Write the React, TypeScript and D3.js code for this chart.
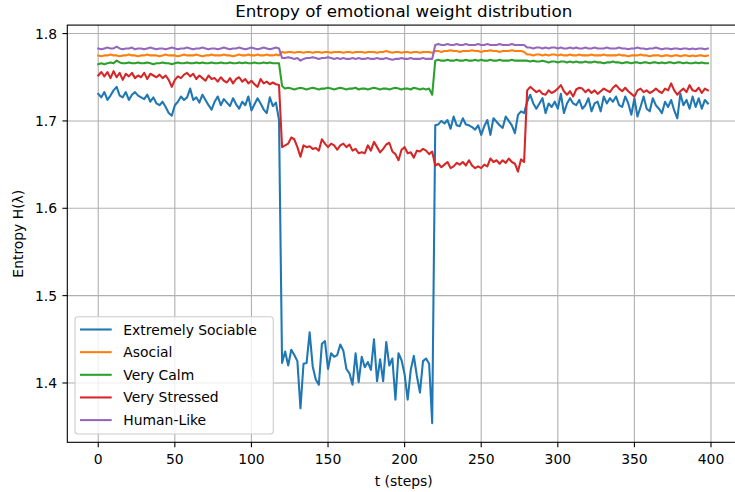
import React from 'react';
import * as d3 from 'd3';

// samples every 2 steps, t = 0 .. 398
const steps = d3.range(0, 400, 2);

const sociable = [
  1.731, 1.727, 1.733, 1.724, 1.729, 1.735, 1.739, 1.729, 1.727, 1.733,
  1.724, 1.730, 1.733, 1.729, 1.727, 1.725, 1.730, 1.722, 1.727, 1.720,
  1.718, 1.722, 1.716, 1.709, 1.706, 1.718, 1.722, 1.728, 1.724, 1.727,
  1.737, 1.724, 1.727, 1.721, 1.730, 1.724, 1.718, 1.713, 1.722, 1.728,
  1.718, 1.725, 1.721, 1.717, 1.726, 1.719, 1.714, 1.722, 1.718, 1.728,
  1.712, 1.719, 1.726, 1.720, 1.713, 1.709, 1.727, 1.717, 1.721, 1.701,
  1.423, 1.436, 1.420, 1.438, 1.432, 1.425, 1.371, 1.422, 1.423, 1.458,
  1.419, 1.404, 1.398, 1.445, 1.448, 1.416, 1.434, 1.430, 1.432, 1.444,
  1.437, 1.416, 1.411, 1.398, 1.434, 1.401, 1.430, 1.418, 1.424, 1.415,
  1.450, 1.402, 1.427, 1.402, 1.447, 1.420, 1.428, 1.381, 1.434, 1.426,
  1.410, 1.381, 1.415, 1.431, 1.408, 1.389, 1.425, 1.428, 1.422, 1.354,
  1.695, 1.696, 1.700, 1.697, 1.701, 1.691, 1.705, 1.695, 1.694, 1.703,
  1.696, 1.695, 1.693, 1.690, 1.695, 1.684, 1.694, 1.701, 1.684, 1.703,
  1.699, 1.695, 1.692, 1.705, 1.700, 1.695, 1.686, 1.707, 1.711, 1.709,
  1.722, 1.730, 1.720, 1.714, 1.720, 1.726, 1.709, 1.720, 1.716, 1.722,
  1.714, 1.731, 1.709, 1.720, 1.726, 1.720, 1.718, 1.724, 1.714, 1.718,
  1.726, 1.711, 1.720, 1.722, 1.711, 1.728, 1.720, 1.726, 1.722, 1.728,
  1.718, 1.716, 1.728, 1.720, 1.707, 1.726, 1.705, 1.716, 1.728, 1.714,
  1.711, 1.726, 1.718, 1.714, 1.709, 1.722, 1.716, 1.724, 1.712, 1.703,
  1.731, 1.718, 1.724, 1.714, 1.728, 1.716, 1.726, 1.714, 1.724, 1.720,
];

const asocial = [
  1.775, 1.774, 1.775, 1.775, 1.776, 1.775, 1.775, 1.774, 1.775, 1.775,
  1.776, 1.775, 1.775, 1.774, 1.775, 1.775, 1.776, 1.775, 1.775, 1.775,
  1.774, 1.775, 1.776, 1.775, 1.775, 1.775, 1.774, 1.775, 1.776, 1.775,
  1.775, 1.775, 1.776, 1.775, 1.774, 1.775, 1.775, 1.776, 1.775, 1.775,
  1.775, 1.776, 1.775, 1.775, 1.774, 1.775, 1.776, 1.775, 1.775, 1.776,
  1.775, 1.775, 1.776, 1.775, 1.775, 1.776, 1.775, 1.775, 1.776, 1.775,
  1.779, 1.778, 1.779, 1.779, 1.778, 1.779, 1.779, 1.778, 1.779, 1.779,
  1.778, 1.779, 1.779, 1.778, 1.779, 1.779, 1.778, 1.779, 1.779, 1.779,
  1.778, 1.779, 1.779, 1.778, 1.779, 1.779, 1.779, 1.778, 1.779, 1.779,
  1.779, 1.778, 1.779, 1.779, 1.780, 1.779, 1.778, 1.779, 1.779, 1.778,
  1.779, 1.779, 1.778, 1.779, 1.779, 1.778, 1.779, 1.779, 1.779, 1.778,
  1.780, 1.780, 1.779, 1.780, 1.780, 1.781, 1.780, 1.780, 1.779, 1.780,
  1.780, 1.780, 1.781, 1.780, 1.780, 1.779, 1.780, 1.780, 1.781, 1.780,
  1.780, 1.779, 1.780, 1.780, 1.780, 1.781, 1.780, 1.780, 1.780, 1.779,
  1.776, 1.776, 1.775, 1.776, 1.776, 1.775, 1.776, 1.775, 1.776, 1.776,
  1.775, 1.776, 1.775, 1.775, 1.776, 1.775, 1.775, 1.776, 1.775, 1.775,
  1.775, 1.776, 1.775, 1.775, 1.775, 1.776, 1.775, 1.775, 1.775, 1.775,
  1.776, 1.775, 1.775, 1.774, 1.775, 1.775, 1.775, 1.776, 1.775, 1.775,
  1.774, 1.775, 1.775, 1.775, 1.774, 1.775, 1.775, 1.774, 1.775, 1.775,
  1.774, 1.775, 1.775, 1.774, 1.775, 1.774, 1.775, 1.775, 1.774, 1.775,
];

const calm = [
  1.765, 1.766, 1.765, 1.766, 1.767, 1.766, 1.769, 1.767, 1.766, 1.766,
  1.767, 1.766, 1.766, 1.767, 1.766, 1.766, 1.767, 1.766, 1.765, 1.766,
  1.766, 1.767, 1.766, 1.766, 1.765, 1.766, 1.767, 1.766, 1.766, 1.767,
  1.766, 1.766, 1.767, 1.766, 1.767, 1.766, 1.766, 1.767, 1.766, 1.766,
  1.767, 1.766, 1.766, 1.767, 1.766, 1.766, 1.767, 1.766, 1.767, 1.766,
  1.766, 1.767, 1.766, 1.766, 1.767, 1.766, 1.767, 1.766, 1.766, 1.766,
  1.740, 1.737, 1.738, 1.737, 1.736, 1.737, 1.738, 1.737, 1.736, 1.737,
  1.738, 1.737, 1.736, 1.737, 1.737, 1.738, 1.737, 1.736, 1.737, 1.738,
  1.737, 1.736, 1.737, 1.737, 1.738, 1.736, 1.737, 1.737, 1.736, 1.737,
  1.738, 1.737, 1.736, 1.737, 1.737, 1.736, 1.737, 1.738, 1.737, 1.736,
  1.737, 1.737, 1.736, 1.738, 1.737, 1.736, 1.737, 1.736, 1.737, 1.730,
  1.769, 1.770, 1.769, 1.769, 1.770, 1.769, 1.769, 1.770, 1.769, 1.769,
  1.770, 1.769, 1.769, 1.770, 1.769, 1.770, 1.769, 1.769, 1.770, 1.769,
  1.769, 1.770, 1.769, 1.769, 1.769, 1.770, 1.769, 1.769, 1.769, 1.769,
  1.769, 1.768, 1.769, 1.768, 1.768, 1.769, 1.768, 1.767, 1.768, 1.768,
  1.767, 1.768, 1.768, 1.767, 1.768, 1.767, 1.768, 1.767, 1.767, 1.768,
  1.767, 1.767, 1.768, 1.767, 1.767, 1.766, 1.767, 1.767, 1.768, 1.767,
  1.767, 1.766, 1.767, 1.767, 1.766, 1.767, 1.767, 1.766, 1.767, 1.767,
  1.766, 1.767, 1.767, 1.766, 1.767, 1.766, 1.767, 1.767, 1.766, 1.767,
  1.767, 1.766, 1.767, 1.766, 1.766, 1.767, 1.766, 1.767, 1.766, 1.766,
];

const stressed = [
  1.752, 1.756, 1.751, 1.756, 1.749, 1.757, 1.750, 1.755, 1.747, 1.754,
  1.751, 1.755, 1.749, 1.752, 1.750, 1.755, 1.748, 1.754, 1.752, 1.750,
  1.753, 1.749, 1.752, 1.747, 1.739, 1.747, 1.751, 1.749, 1.753, 1.755,
  1.751, 1.754, 1.748, 1.752, 1.749, 1.746, 1.752, 1.748, 1.749, 1.745,
  1.750, 1.746, 1.744, 1.749, 1.743, 1.748, 1.750, 1.745, 1.748, 1.743,
  1.746, 1.742, 1.739, 1.748, 1.743, 1.745, 1.742, 1.744, 1.742, 1.741,
  1.670, 1.672, 1.674, 1.681, 1.679, 1.670, 1.659, 1.672, 1.670, 1.671,
  1.668, 1.669, 1.666, 1.679, 1.674, 1.670, 1.674, 1.672, 1.667, 1.672,
  1.674, 1.670, 1.673, 1.666, 1.668, 1.663, 1.664, 1.663, 1.672, 1.666,
  1.676, 1.670, 1.664, 1.668, 1.673, 1.675, 1.665, 1.662, 1.655, 1.667,
  1.670, 1.663, 1.664, 1.658, 1.666, 1.665, 1.668, 1.666, 1.662, 1.665,
  1.649, 1.651, 1.647, 1.650, 1.653, 1.646, 1.648, 1.652, 1.650, 1.653,
  1.649, 1.655, 1.649, 1.646, 1.648, 1.646, 1.650, 1.648, 1.657, 1.653,
  1.655, 1.651, 1.655, 1.652, 1.657, 1.653, 1.651, 1.642, 1.656, 1.653,
  1.735, 1.739, 1.736, 1.733, 1.735, 1.731, 1.730, 1.735, 1.732, 1.734,
  1.737, 1.741, 1.734, 1.730, 1.734, 1.728, 1.736, 1.738, 1.737, 1.733,
  1.736, 1.732, 1.735, 1.731, 1.734, 1.737, 1.735, 1.733, 1.738, 1.741,
  1.737, 1.734, 1.738, 1.734, 1.731, 1.728, 1.735, 1.737, 1.733, 1.735,
  1.732, 1.734, 1.737, 1.734, 1.732, 1.737, 1.735, 1.743, 1.735, 1.730,
  1.734, 1.737, 1.733, 1.741, 1.735, 1.734, 1.738, 1.732, 1.737, 1.735,
];

const humanLike = [
  1.783, 1.782, 1.783, 1.784, 1.783, 1.783, 1.785, 1.783, 1.782, 1.783,
  1.783, 1.784, 1.782, 1.783, 1.783, 1.782, 1.783, 1.784, 1.783, 1.782,
  1.783, 1.783, 1.782, 1.783, 1.784, 1.783, 1.782, 1.783, 1.783, 1.784,
  1.783, 1.782, 1.783, 1.783, 1.784, 1.783, 1.782, 1.783, 1.783, 1.782,
  1.783, 1.784, 1.783, 1.782, 1.783, 1.783, 1.784, 1.783, 1.782, 1.783,
  1.784, 1.783, 1.782, 1.783, 1.784, 1.783, 1.782, 1.783, 1.784, 1.783,
  1.772, 1.772, 1.773, 1.772, 1.771, 1.772, 1.769, 1.771, 1.772, 1.772,
  1.773, 1.772, 1.771, 1.772, 1.772, 1.773, 1.772, 1.771, 1.772, 1.771,
  1.772, 1.771, 1.771, 1.772, 1.771, 1.772, 1.771, 1.771, 1.772, 1.771,
  1.771, 1.772, 1.771, 1.771, 1.772, 1.771, 1.770, 1.771, 1.771, 1.772,
  1.771, 1.771, 1.772, 1.771, 1.771, 1.771, 1.772, 1.771, 1.771, 1.771,
  1.787, 1.788, 1.787, 1.787, 1.788, 1.787, 1.787, 1.788, 1.787, 1.787,
  1.788, 1.787, 1.787, 1.787, 1.788, 1.787, 1.787, 1.788, 1.787, 1.787,
  1.787, 1.788, 1.787, 1.787, 1.787, 1.788, 1.787, 1.787, 1.787, 1.787,
  1.784, 1.784, 1.783, 1.784, 1.784, 1.783, 1.784, 1.783, 1.784, 1.784,
  1.783, 1.784, 1.783, 1.783, 1.784, 1.783, 1.784, 1.783, 1.783, 1.784,
  1.783, 1.783, 1.784, 1.783, 1.783, 1.783, 1.784, 1.783, 1.783, 1.783,
  1.784, 1.783, 1.783, 1.782, 1.783, 1.783, 1.784, 1.783, 1.783, 1.782,
  1.783, 1.783, 1.784, 1.783, 1.782, 1.783, 1.783, 1.782, 1.783, 1.783,
  1.782, 1.783, 1.783, 1.782, 1.783, 1.782, 1.783, 1.783, 1.782, 1.783,
];

const seriesNames = ['Extremely Sociable', 'Asocial', 'Very Calm', 'Very Stressed', 'Human-Like'];
const seriesValues = [sociable, asocial, calm, stressed, humanLike];
const seriesColors = ['#1f77b4', '#ff7f0e', '#2ca02c', '#d62728', '#9467bd'];

const xTicks = [0, 50, 100, 150, 200, 250, 300, 350, 400];
const yTicks = [1.4, 1.5, 1.6, 1.7, 1.8];

const FONT = 'DejaVu Sans, sans-serif';

export default function App() {
  const width = 735;
  const height = 492;
  const left = 67.3;
  const right = 740.1;
  const top = 25.1;
  const bottom = 442.3;

  const x = d3.scaleLinear().domain([-20.2, 419]).range([left, right]);
  const y = d3.scaleLinear().domain([1.3321, 1.8097]).range([bottom, top]);

  const line = d3.line<number>()
    .x((d, i) => x(steps[i]))
    .y(d => y(d));

  const legendX = 75;
  const legendY = 316.7;
  const rowH = 22.65;

  return (
    <svg
      width={width}
      height={height}
      style={{ position: 'absolute', left: 0, top: 0, background: '#fff', overflow: 'hidden' }}
      fontFamily={FONT}
    >
      <rect x={0} y={0} width={width} height={height} fill="#fff" />

      {/* grid */}
      {xTicks.map(t => (
        <line key={'gx' + t} x1={x(t)} x2={x(t)} y1={top} y2={bottom} stroke="#b0b0b0" strokeWidth={1.1} />
      ))}
      {yTicks.map(t => (
        <line key={'gy' + t} x1={left} x2={right} y1={y(t)} y2={y(t)} stroke="#b0b0b0" strokeWidth={1.1} />
      ))}

      {/* series */}
      {seriesValues.map((vals, i) => (
        <path
          key={seriesNames[i]}
          d={line(vals) || ''}
          fill="none"
          stroke={seriesColors[i]}
          strokeWidth={2.08}
          strokeLinejoin="round"
          strokeLinecap="square"
        />
      ))}

      {/* spines */}
      <rect x={left} y={top} width={right - left} height={bottom - top} fill="none" stroke="#000" strokeWidth={1.1} />

      {/* x ticks */}
      {xTicks.map(t => (
        <g key={'tx' + t}>
          <line x1={x(t)} x2={x(t)} y1={bottom} y2={bottom + 4.9} stroke="#000" strokeWidth={1.1} />
          <text x={x(t)} y={464.4} textAnchor="middle" fontSize={13.9} fill="#000">{t}</text>
        </g>
      ))}
      {/* y ticks */}
      {yTicks.map(t => (
        <g key={'ty' + t}>
          <line x1={left - 4.9} x2={left} y1={y(t)} y2={y(t)} stroke="#000" strokeWidth={1.1} />
          <text x={57} y={y(t) + 5} textAnchor="end" fontSize={13.9} fill="#000">{t.toFixed(1)}</text>
        </g>
      ))}

      {/* labels */}
      <text x={(left + right) / 2} y={16.8} textAnchor="middle" fontSize={16.7} fill="#000">
        Entropy of emotional weight distribution
      </text>
      <text x={(left + right) / 2} y={486} textAnchor="middle" fontSize={13.9} fill="#000">t (steps)</text>
      <text
        transform={`translate(23.3, ${(top + bottom) / 2}) rotate(-90)`}
        textAnchor="middle"
        fontSize={13.9}
        fill="#000"
      >
        Entropy H(λ)
      </text>

      {/* legend */}
      <rect
        x={legendX}
        y={legendY}
        width={198.3}
        height={117.3}
        rx={3}
        fill="#fff"
        fillOpacity={0.8}
        stroke="#cccccc"
        strokeWidth={1.1}
      />
      {seriesNames.map((name, i) => {
        const cy = 329.5 + i * rowH;
        return (
          <g key={'lg' + name}>
            <line x1={80} x2={111.7} y1={cy} y2={cy} stroke={seriesColors[i]} strokeWidth={2.08} />
            <text x={123.3} y={cy + 5} fontSize={13.9} fill="#000">{name}</text>
          </g>
        );
      })}
    </svg>
  );
}
